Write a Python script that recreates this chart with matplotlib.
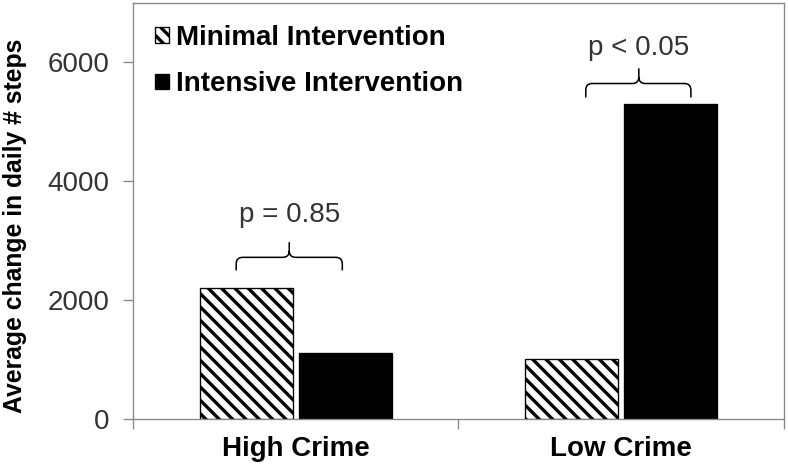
import matplotlib
matplotlib.use('Agg')
import matplotlib.pyplot as plt
from matplotlib.path import Path
from matplotlib.patches import PathPatch
import numpy as np

# data
groups = ['High Crime', 'Low Crime']
series = ['Minimal Intervention', 'Intensive Intervention']
minimal = [2210, 1010]
intensive = [1110, 5300]
yticks = [0, 2000, 4000, 6000]
p_labels = ['p = 0.85', 'p < 0.05']
# brace: left x, right x, middle x / tip y, bar y, spike y, text y
brace_x = [(-0.183, 0.143, -0.02), (0.891, 1.214, 1.054)]
brace_y = [(2500, 2720, 2975, 3440), (5410, 5645, 5900, 6235)]

DPI = 80
plt.rcParams['font.family'] = ['Liberation Sans', 'DejaVu Sans']
plt.rcParams['hatch.linewidth'] = 3.0
plt.rcParams['hatch.color'] = 'black'


def brace(ax, xl, xr, xm, yt, yb, ys, rx=0.02, ry=110):
    # curly-ish bracket with rounded corners, drawn in data coords
    verts = [(xl, yt), (xl, yb - ry), (xl, yb), (xl + rx, yb),
             (xm - rx, yb), (xm, yb), (xm, yb + ry), (xm, ys),
             (xm, yb + ry), (xm, yb), (xm + rx, yb),
             (xr - rx, yb), (xr, yb), (xr, yb - ry), (xr, yt)]
    codes = [Path.MOVETO, Path.LINETO, Path.CURVE3, Path.CURVE3,
             Path.LINETO, Path.CURVE3, Path.CURVE3, Path.LINETO,
             Path.MOVETO, Path.CURVE3, Path.CURVE3,
             Path.LINETO, Path.CURVE3, Path.CURVE3, Path.LINETO]
    ax.add_patch(PathPatch(Path(verts, codes), fill=False, lw=1.4,
                           edgecolor='black'))


fig = plt.figure(figsize=(788 / DPI, 467 / DPI), dpi=DPI)
ax = fig.add_axes([0.1688, 0.1028, 0.9949 - 0.1688, 0.9936 - 0.1028])

x = np.arange(len(groups))
w = 0.286
off = 0.152
ax.bar(x - off, minimal, w, facecolor='white', edgecolor='black',
       hatch='\\\\', linewidth=1.2, label=series[0])
ax.bar(x + off, intensive, w, facecolor='black', edgecolor='black',
       linewidth=1.2, label=series[1])

for (xl, xr, xm), (yt, yb, ys, ytxt), lab in zip(brace_x, brace_y, p_labels):
    brace(ax, xl, xr, xm, yt, yb, ys)
    ax.text((xl + xr) / 2, ytxt, lab, ha='center', va='center',
            fontsize=25, color='#333333')

ax.set_xlim(-0.5, 1.5)
ax.set_ylim(0, 7000)
ax.set_yticks(yticks)
ax.set_yticklabels([str(v) for v in yticks])
ax.set_xticks(x)
ax.set_xticklabels(groups, fontweight='bold')
ax.set_xticks([-0.5, 0.5, 1.5], minor=True)

ax.tick_params(axis='y', length=9, width=1.2, color='#888888',
               labelsize=25, labelcolor='#333333', pad=12)
ax.tick_params(axis='x', which='major', length=0, labelsize=25, pad=15)
ax.tick_params(axis='x', which='minor', length=9, width=1.2, color='#888888')

for s in ax.spines.values():
    s.set_color('#888888')
    s.set_linewidth(1.2)

ax.set_ylabel('Average change in daily # steps', fontsize=22.3,
              fontweight='bold')
ax.yaxis.set_label_coords(-0.163, 0.464)

leg = ax.legend(loc='upper left', bbox_to_anchor=(0.017, 0.975), frameon=False,
                fontsize=25, handlelength=0.5, handleheight=0.5,
                handletextpad=0.25, labelspacing=0.75, borderaxespad=0)
for t in leg.get_texts():
    t.set_fontweight('bold')

fig.savefig('out.png', dpi=DPI)
